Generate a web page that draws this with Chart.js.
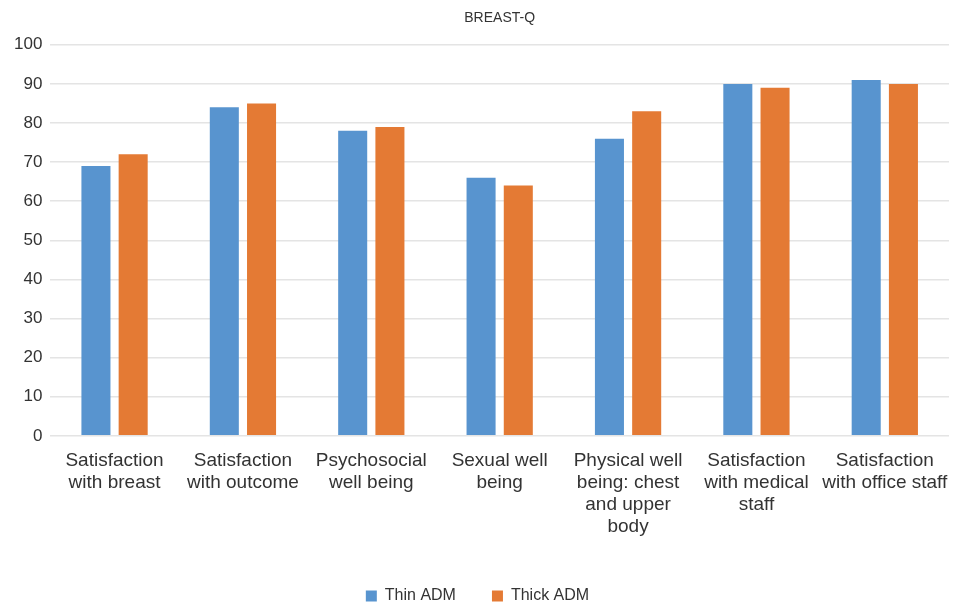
<!DOCTYPE html>
<html>
<head>
<meta charset="utf-8">
<script src="https://cdn.jsdelivr.net/npm/chart.js@4.4.0/dist/chart.umd.min.js"></script>
<style>
  html, body { margin: 0; padding: 0; background: #fff; }
  #wrap { width: 955px; height: 606px; position: relative; }
</style>
</head>
<body>
<div id="wrap"><canvas id="breastQChart"></canvas></div>
<script>
// BREAST-Q scores, thin vs thick ADM
const categories = [
    ['Satisfaction', 'with breast'],
    ['Satisfaction', 'with outcome'],
    ['Psychosocial', 'well being'],
    ['Sexual well', 'being'],
    ['Physical well', 'being: chest', 'and upper', 'body'],
    ['Satisfaction', 'with medical', 'staff'],
    ['Satisfaction', 'with office staff']
];
const thinAdm = [69, 84, 78, 66, 76, 90, 91];
const thickAdm = [72, 85, 79, 64, 83, 89, 90];
const yTicks = [0, 10, 20, 30, 40, 50, 60, 70, 80, 90, 100];

const fontFamily = '"Liberation Sans", Arial, Helvetica, sans-serif';

const ctx = document.getElementById('breastQChart').getContext('2d');
new Chart(ctx, {
    type: 'bar',
    data: {
        labels: categories,
        datasets: [
            {
                label: 'Thin ADM',
                data: thinAdm,
                backgroundColor: '#5894cf',
                categoryPercentage: 0.58,
                barPercentage: 0.78
            },
            {
                label: 'Thick ADM',
                data: thickAdm,
                backgroundColor: '#e47a34',
                categoryPercentage: 0.58,
                barPercentage: 0.78
            }
        ]
    },
    options: {
        responsive: true,
        maintainAspectRatio: false,
        animation: false,
        layout: { padding: { left: 6, right: 6, top: 6, bottom: -8 } },
        plugins: {
            title: {
                display: true,
                fullSize: false,
                text: 'BREAST-Q',
                color: '#333',
                font: { family: fontFamily, size: 14, weight: 'normal' },
                padding: { top: 4, bottom: 18 }
            },
            legend: {
                display: true,
                position: 'bottom',
                labels: {
                    color: '#333',
                    font: { family: fontFamily, size: 16 },
                    boxWidth: 11,
                    boxHeight: 11,
                    padding: 36
                }
            },
            tooltip: { enabled: false }
        },
        scales: {
            x: {
                grid: { display: false },
                border: { display: false },
                afterFit: axis => { axis.height += 8; },
                ticks: {
                    color: '#333',
                    font: { family: fontFamily, size: 19, lineHeight: 1.16 },
                    maxRotation: 0,
                    autoSkip: false,
                    padding: 6
                }
            },
            y: {
                min: 0,
                max: 100,
                afterBuildTicks: axis => { axis.ticks = yTicks.map(v => ({ value: v })); },
                grid: { color: '#e4e4e4', lineWidth: 1.5, drawTicks: false },
                border: { display: false },
                ticks: {
                    color: '#333',
                    font: { family: fontFamily, size: 17 },
                    padding: 8
                }
            }
        }
    }
});
</script>
</body>
</html>
